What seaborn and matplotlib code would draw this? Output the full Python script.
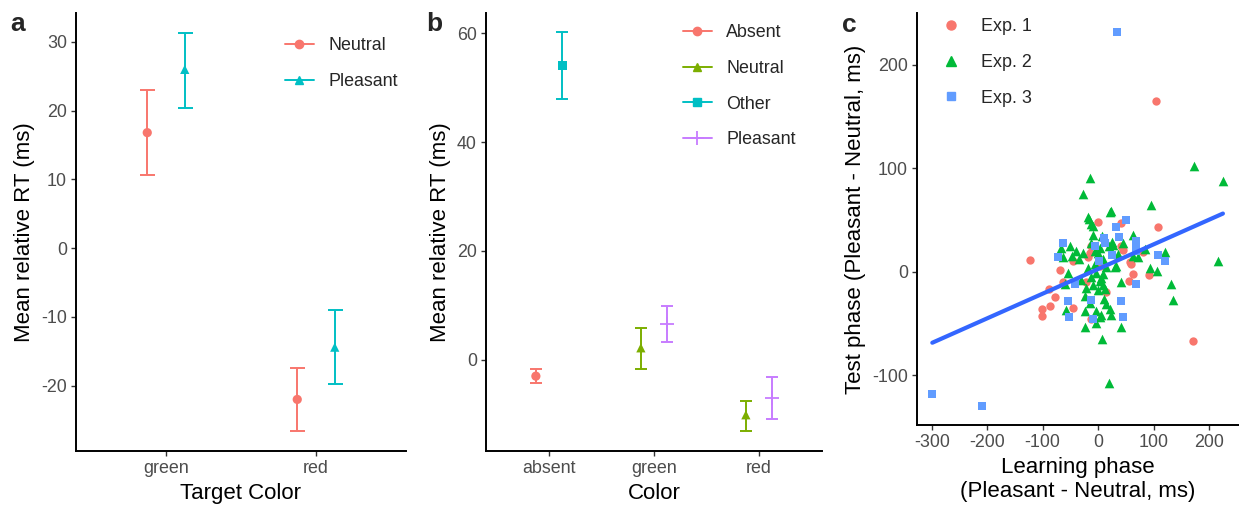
import numpy as np
import pandas as pd
import matplotlib
matplotlib.use("Agg")
import matplotlib.pyplot as plt
from matplotlib.lines import Line2D
import seaborn as sns

sns.set_theme(style="ticks")
plt.rcParams["font.family"] = ["Liberation Sans", "DejaVu Sans"]
plt.rcParams["axes.unicode_minus"] = False

# ---- panel a: mean relative RT by target colour ----
cats_a = ["green", "red"]
a_neutral_mean = [16.8, -22.0]
a_neutral_lo = [10.7, -26.6]
a_neutral_hi = [23.0, -17.5]
a_pleasant_mean = [26.0, -14.4]
a_pleasant_lo = [20.4, -19.8]
a_pleasant_hi = [31.3, -9.0]

# ---- panel b: mean relative RT by colour and condition ----
cats_b = ["absent", "green", "red"]
b_groups = ["Absent", "Neutral", "Other", "Pleasant"]
b_cat = ["absent", "absent", "green", "green", "red", "red"]
b_group = ["Absent", "Other", "Neutral", "Pleasant", "Neutral", "Pleasant"]
b_mean = [-3.0, 54.1, 2.2, 6.5, -10.1, -7.0]
b_lo = [-4.3, 47.9, -1.6, 3.2, -13.1, -10.9]
b_hi = [-1.7, 60.2, 5.9, 9.8, -7.5, -3.1]

# ---- panel c: learning vs test phase effects ----
exp1_x = [105, -122, -69, -88, -78, -102, -101, -86, -64, -46, 0, 42, 108, -12, 44,
          42, -45, 63, 59, 56, 92, 81, 171, 14, -12, -21, 3, -15, -18, 57]
exp1_y = [165, 11.5, 2, -17, -24, -36, -43, -33, -10, -35, 48, 47, 43, 25, 21,
          25, 10, -2, 8, -9, -3, 19, -67, -20, -46, -10, 6, 18.5, 14, 9]
exp2_x = [-15, -28, 173, 225, 95, 23, -18, -16, -10, -10, 7, 25, 62, -51, -67,
          -48, -28, 0, 3, 36, 63, 84, 121, 216, 93, 106, 132, 135, -54, -59,
          -18, -12, -3, 9, 3, 9, -9, -21, 0, 42, -24, 10, 15, 21, -58,
          -23, -4, 3, 24, -4, -23, 42, 7, 19, 9, -35, -13, 15, -6, 5,
          -15, 13, -30, 30, -5, 20, -40, 6, 45, 72, -63, 33, 27, -12, 21]
exp2_y = [91, 75, 102, 88, 65, 59, 53, 51, 44, 36, 35, 29, 36, 25, 23,
          15, 18, 18, 23, 17, 15, 22, 19, 10, 4, 1, -12, -27, -1, -12,
          4, -5, -1, -2, -9, -13, -13, -16, -18, -10, -23, -26, -31, -36, -37,
          -38, -38, -44, -42, -49, -53, -53, -65, -107, 12, 12, 28, 5, 8, -6,
          -30, -17, -8, 5, 20, 25, 20, -42, 28, 14, 14, 6, 26, 46, 58]
exp3_x = [-299, -210, 34, -64, -72, 51, 32, 10, -6, 13, 38, 69, 68, 25, 2,
          108, 121, -41, 68, -55, -13, 41, -53, -9, 45, 69]
exp3_y = [-118, -130, 232, 28, 14, 50, 43, 33, 25, 28, 34, 30, 24, 16, 10,
          16, 10, -12, -12, -28, -27, -28, -44, -46, -44, 20]

PAL2 = {"Neutral": "#F8766D", "Pleasant": "#00BFC4"}
PAL4 = {"Absent": "#F8766D", "Neutral": "#7CAE00", "Other": "#00BFC4", "Pleasant": "#C77CFF"}
MARK4 = {"Absent": "o", "Neutral": "^", "Other": "s", "Pleasant": "+"}
PAL3 = {"Exp. 1": "#F8766D", "Exp. 2": "#00BA38", "Exp. 3": "#619CFF"}

TITLE_FS = 16
TICK_FS = 12.9
LEG_FS = 12.9

W, H = 1239, 505
fig = plt.figure(figsize=(W / 100, H / 100), dpi=100)


def px_axes(l, r, t, b):
    return fig.add_axes([l / W, 1 - b / H, (r - l) / W, (b - t) / H])


def style_axes(ax):
    sns.despine(ax=ax)
    for s in ("left", "bottom"):
        ax.spines[s].set_linewidth(1.4)
        ax.spines[s].set_color("black")
    ax.tick_params(axis="both", length=3.4, width=1.0, color="#333333",
                   labelsize=TICK_FS, labelcolor="#4D4D4D", pad=3.2)
    ax.set_facecolor("white")


def draw_errorbars(ax, g, color, capsize):
    pos = g["pos"].to_numpy()
    mean = g["mean"].to_numpy()
    err = np.vstack([mean - g["lo"].to_numpy(), g["hi"].to_numpy() - mean])
    ax.errorbar(pos, mean, yerr=err, fmt="none", ecolor=color, elinewidth=1.4,
                capsize=capsize, capthick=1.4)


def add_legend(ax, handles, labels, x, y, handlelength, handletextpad):
    ax.legend(handles, labels, loc="upper left", frameon=False,
              bbox_to_anchor=(x / W, 1 - y / H), bbox_transform=fig.transFigure,
              borderpad=0, borderaxespad=0, handlelength=handlelength,
              handletextpad=handletextpad, labelspacing=1.05, fontsize=LEG_FS)


DODGE = 0.125

# ---------------- panel a ----------------
ax_a = px_axes(76, 406, 13, 451)
rows = []
for i, c in enumerate(cats_a):
    rows.append(dict(pos=i - DODGE, cond="Neutral", mean=a_neutral_mean[i],
                     lo=a_neutral_lo[i], hi=a_neutral_hi[i]))
    rows.append(dict(pos=i + DODGE, cond="Pleasant", mean=a_pleasant_mean[i],
                     lo=a_pleasant_lo[i], hi=a_pleasant_hi[i]))
df_a = pd.DataFrame(rows)
for cond, g in df_a.groupby("cond"):
    draw_errorbars(ax_a, g, PAL2[cond], 5.4)
sns.scatterplot(data=df_a, x="pos", y="mean", hue="cond", style="cond",
                markers={"Neutral": "o", "Pleasant": "^"}, palette=PAL2,
                s=44, linewidth=0, legend=False, ax=ax_a, zorder=3)
ax_a.set_xlim(-0.6, 1.6)
ax_a.set_ylim(-29.5, 34.2)
ax_a.set_xticks(range(len(cats_a)), cats_a)
ax_a.set_yticks([-20, -10, 0, 10, 20, 30])
style_axes(ax_a)
ax_a.set_xlabel("Target Color", fontsize=TITLE_FS, color="black", labelpad=4)
ax_a.set_ylabel("Mean relative RT (ms)", fontsize=TITLE_FS, color="black", labelpad=4)
h_a = [Line2D([], [], color=PAL2[k], marker=m, markersize=6, lw=1.4)
       for k, m in (("Neutral", "o"), ("Pleasant", "^"))]
add_legend(ax_a, h_a, ["Neutral", "Pleasant"], 285, 37, 1.6, 0.8)
fig.text(10 / W, 1 - 24 / H, "a", fontsize=19, fontweight="bold", va="center", ha="left")

# ---------------- panel b ----------------
ax_b = px_axes(486, 822, 13, 451)
off_b = {("absent", "Absent"): -DODGE, ("absent", "Other"): DODGE,
         ("green", "Neutral"): -DODGE, ("green", "Pleasant"): DODGE,
         ("red", "Neutral"): -DODGE, ("red", "Pleasant"): DODGE}
df_b = pd.DataFrame(dict(cat=b_cat, group=b_group, mean=b_mean, lo=b_lo, hi=b_hi))
df_b["pos"] = [cats_b.index(c) + off_b[(c, g)] for c, g in zip(df_b["cat"], df_b["group"])]
for grp, g in df_b.groupby("group"):
    draw_errorbars(ax_b, g, PAL4[grp], 4.0)
filled = df_b[df_b["group"] != "Pleasant"]
sns.scatterplot(data=filled, x="pos", y="mean", hue="group", style="group",
                markers={k: MARK4[k] for k in ("Absent", "Neutral", "Other")},
                palette=PAL4, s=44, linewidth=0, legend=False, ax=ax_b, zorder=3)
sns.scatterplot(data=df_b[df_b["group"] == "Pleasant"], x="pos", y="mean",
                color=PAL4["Pleasant"], marker="+", s=110, linewidth=1.3,
                legend=False, ax=ax_b, zorder=3)
ax_b.set_xlim(-0.6, 2.6)
ax_b.set_ylim(-16.75, 63.7)
ax_b.set_xticks(range(len(cats_b)), cats_b)
ax_b.set_yticks([0, 20, 40, 60])
style_axes(ax_b)
ax_b.set_xlabel("Color", fontsize=TITLE_FS, color="black", labelpad=4)
ax_b.set_ylabel("Mean relative RT (ms)", fontsize=TITLE_FS, color="black", labelpad=4)
h_b = []
for k in b_groups:
    if k == "Pleasant":
        h_b.append(Line2D([], [], color=PAL4[k], marker="+", markersize=10, mew=1.3, lw=1.4))
    else:
        h_b.append(Line2D([], [], color=PAL4[k], marker=MARK4[k], markersize=6, lw=1.4))
add_legend(ax_b, h_b, b_groups, 683, 24, 1.6, 0.8)
fig.text(426 / W, 1 - 24 / H, "b", fontsize=19, fontweight="bold", va="center", ha="left")

# ---------------- panel c ----------------
ax_c = px_axes(917, 1239, 13, 425)
df_c = pd.concat([
    pd.DataFrame(dict(learn=exp1_x, test=exp1_y, exp="Exp. 1")),
    pd.DataFrame(dict(learn=exp2_x, test=exp2_y, exp="Exp. 2")),
    pd.DataFrame(dict(learn=exp3_x, test=exp3_y, exp="Exp. 3")),
], ignore_index=True)
marks_c = {"Exp. 1": ("o", 36), "Exp. 2": ("^", 48), "Exp. 3": ("s", 30)}
for e, (m, sz) in marks_c.items():
    sns.scatterplot(data=df_c[df_c["exp"] == e], x="learn", y="test", color=PAL3[e],
                    marker=m, s=sz, linewidth=0, legend=False, ax=ax_c, zorder=2)
sns.regplot(data=df_c, x="learn", y="test", scatter=False, ci=None, color="#3366FF",
            line_kws=dict(lw=3.0, zorder=4), ax=ax_c)
ax_c.set_xlim(-326.6, 254)
ax_c.set_ylim(-148, 250)
ax_c.set_xticks([-300, -200, -100, 0, 100, 200])
ax_c.set_yticks([-100, 0, 100, 200])
style_axes(ax_c)
ax_c.set_xlabel("Learning phase\n(Pleasant - Neutral, ms)", fontsize=TITLE_FS, color="black",
                labelpad=4, linespacing=1.22)
ax_c.set_ylabel("Test phase (Pleasant - Neutral, ms)", fontsize=TITLE_FS, color="black",
                labelpad=4)
h_c = [Line2D([], [], color=PAL3[e], marker=m, markersize=6.5 if m != "s" else 5.5, lw=0)
       for e, (m, _) in marks_c.items()]
add_legend(ax_c, h_c, list(marks_c), 942, 18, 1.0, 1.15)
fig.text(842 / W, 1 - 25 / H, "c", fontsize=19, fontweight="bold", va="center", ha="left")

fig.savefig("out.png", dpi=100, facecolor="white")
